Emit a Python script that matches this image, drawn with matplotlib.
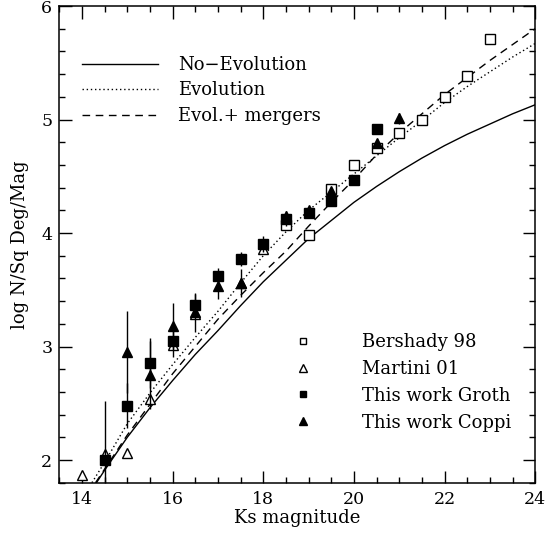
import matplotlib
matplotlib.use("Agg")
import matplotlib.pyplot as plt
from matplotlib.ticker import MultipleLocator
from matplotlib.lines import Line2D

# model curves
noevo_mag = [14.32, 14.5, 15.0, 15.5, 16.0, 16.5, 17.0, 17.5, 18.0, 18.5, 19.0, 19.5, 20.0, 20.5, 21.0, 21.5, 22.0, 22.5, 23.0, 23.5, 24.0]
noevo_log = [1.80, 1.91, 2.20, 2.46, 2.70, 2.93, 3.14, 3.36, 3.57, 3.76, 3.95, 4.11, 4.27, 4.41, 4.54, 4.66, 4.77, 4.87, 4.96, 5.05, 5.13]

evo_mag = [14.22, 14.5, 15.0, 15.5, 16.0, 16.5, 17.0, 17.5, 18.0, 18.5, 19.0, 19.5, 20.0, 20.5, 21.0, 21.5, 22.0, 22.5, 23.0, 23.5, 24.0]
evo_log = [1.80, 1.98, 2.32, 2.59, 2.84, 3.08, 3.31, 3.56, 3.80, 4.01, 4.20, 4.36, 4.52, 4.68, 4.84, 4.99, 5.15, 5.29, 5.42, 5.55, 5.67]

merg_mag = [14.3, 14.5, 15.0, 15.5, 16.0, 16.5, 17.0, 17.5, 18.0, 18.5, 19.0, 19.5, 20.0, 20.5, 21.0, 21.5, 22.0, 22.5, 23.0, 23.5, 24.0]
merg_log = [1.80, 1.92, 2.22, 2.49, 2.76, 3.00, 3.24, 3.45, 3.65, 3.84, 4.06, 4.27, 4.47, 4.69, 4.88, 5.05, 5.22, 5.37, 5.52, 5.66, 5.80]

# data points
bershady_mag = [18.5, 19.0, 19.5, 20.0, 20.5, 21.0, 21.5, 22.0, 22.5, 23.0]
bershady_log = [4.07, 3.98, 4.39, 4.60, 4.75, 4.88, 5.00, 5.195, 5.385, 5.71]

martini_mag = [14.0, 14.5, 15.0, 15.5, 16.0, 16.5, 17.5, 18.0]
martini_log = [1.87, 2.05, 2.06, 2.54, 3.01, 3.29, 3.56, 3.86]

groth_mag = [14.5, 15.0, 15.5, 16.0, 16.5, 17.0, 17.5, 18.0, 18.5, 19.0, 19.5, 20.0, 20.5]
groth_log = [2.00, 2.48, 2.855, 3.05, 3.365, 3.62, 3.77, 3.90, 4.12, 4.18, 4.28, 4.47, 4.92]
groth_err = [0.52, 0.20, 0.22, 0.14, 0.10, 0.07, 0.06, 0.07, 0.06, 0.03, 0.03, 0.03, 0.03]

coppi_mag = [15.0, 15.5, 16.0, 16.5, 17.0, 17.5, 18.5, 19.0, 19.5, 20.5, 21.0]
coppi_log = [2.95, 2.75, 3.18, 3.30, 3.53, 3.56, 4.15, 4.20, 4.37, 4.79, 5.01]
coppi_err = [0.36, 0.30, 0.20, 0.17, 0.11, 0.12, 0.04, 0.03, 0.03, 0.04, 0.05]

plt.rcParams.update({
    "font.family": ["DejaVu Serif"],
    "font.size": 13,
    "axes.linewidth": 1.1,
    "xtick.direction": "in",
    "ytick.direction": "in",
    "xtick.top": True,
    "ytick.right": True,
})

fig = plt.figure(figsize=(5.46, 5.37), dpi=100)
ax = fig.add_axes([0.1086, 0.1011, 0.8716, 0.8877])

ax.plot(noevo_mag, noevo_log, color="black", lw=1.0, ls="-")
ax.plot(evo_mag, evo_log, color="black", lw=1.0, ls=(0, (1, 2)))
ax.plot(merg_mag, merg_log, color="black", lw=1.0, ls=(0, (5.5, 4)))

ax.plot(bershady_mag, bershady_log, ls="none", marker="s", ms=7, mfc="white", mec="black", mew=1.0, zorder=3)
ax.plot(martini_mag, martini_log, ls="none", marker="^", ms=7.5, mfc="white", mec="black", mew=1.0, zorder=3)
ax.errorbar(groth_mag, groth_log, yerr=groth_err, fmt="s", ms=6.5, mfc="black", mec="black",
            ecolor="black", elinewidth=1.0, capsize=0, zorder=4)
ax.errorbar(coppi_mag, coppi_log, yerr=coppi_err, fmt="^", ms=7, mfc="black", mec="black",
            ecolor="black", elinewidth=1.0, capsize=0, zorder=4)

ax.set_xlim(13.5, 24)
ax.set_ylim(1.8, 6)
ax.xaxis.set_major_locator(MultipleLocator(2))
ax.xaxis.set_minor_locator(MultipleLocator(0.5))
ax.yaxis.set_major_locator(MultipleLocator(1))
ax.yaxis.set_minor_locator(MultipleLocator(0.2))
ax.tick_params(which="major", length=9, width=1.0, labelsize=12.5)
ax.tick_params(axis="x", which="major", pad=6)
ax.tick_params(axis="y", which="major", pad=5)
ax.tick_params(which="minor", length=4.5, width=1.0)

ax.set_xlabel("Ks magnitude", fontsize=13, labelpad=1)
ax.set_ylabel("log N/Sq Deg/Mag", fontsize=13, labelpad=9)

line_handles = [
    Line2D([0], [0], color="black", lw=1.0, ls="-", label="No\u2212Evolution"),
    Line2D([0], [0], color="black", lw=1.0, ls=(0, (1, 2)), label="Evolution"),
    Line2D([0], [0], color="black", lw=1.0, ls=(0, (5.5, 4)), label="Evol.+ mergers"),
]
leg1 = ax.legend(handles=line_handles, loc="upper left", bbox_to_anchor=(0.013, 0.9295),
                 frameon=False, handlelength=4.24, handletextpad=1.09, labelspacing=0.415, fontsize=13)
ax.add_artist(leg1)

marker_handles = [
    Line2D([0], [0], ls="none", marker="s", ms=5, mfc="white", mec="black", label="Bershady 98"),
    Line2D([0], [0], ls="none", marker="^", ms=5.5, mfc="white", mec="black", label="Martini 01"),
    Line2D([0], [0], ls="none", marker="s", ms=5, mfc="black", mec="black", label="This work Groth"),
    Line2D([0], [0], ls="none", marker="^", ms=5.5, mfc="black", mec="black", label="This work Coppi"),
]
ax.legend(handles=marker_handles, loc="lower left", bbox_to_anchor=(0.458, 0.073),
          frameon=False, handlelength=1.0, handletextpad=2.77, labelspacing=0.49, fontsize=13)

fig.savefig("out.png", dpi=100)
